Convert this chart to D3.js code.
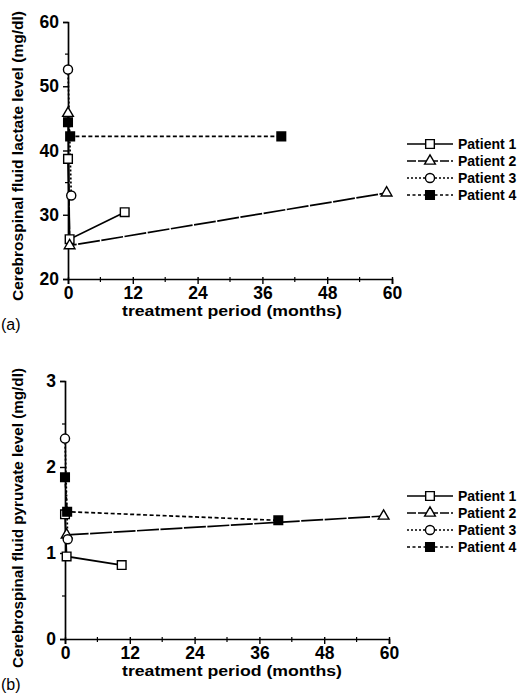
<!DOCTYPE html>
<html>
<head>
<meta charset="utf-8">
<script src="https://cdn.jsdelivr.net/npm/d3@7"></script>
<style>
  body { margin: 0; background: #fff; }
  svg text { font-family: "Liberation Sans", Arial, sans-serif; font-weight: bold; fill: #000; }
</style>
</head>
<body>
<svg id="chart" width="526" height="695"></svg>
<script>
// data: [month, value]
const patients = ['Patient 1', 'Patient 2', 'Patient 3', 'Patient 4'];
const lactateP1 = [[0, 38.7], [0.3, 26.2], [10.5, 30.4]];
const lactateP2 = [[0, 45.8], [0.3, 25.2], [59, 33.4]];
const lactateP3 = [[0, 52.6], [0.6, 33]];
const lactateP4 = [[0, 44.4], [0.4, 42.2], [39.5, 42.2]];
const pyruvateP1 = [[0, 1.45], [0.3, 0.96], [10.5, 0.86]];
const pyruvateP2 = [[0.3, 1.21], [59, 1.43]];
const pyruvateP3 = [[0, 2.33], [0.5, 1.16]];
const pyruvateP4 = [[0, 1.88], [0.4, 1.48], [39.5, 1.38]];
const xTicks = [0, 12, 24, 36, 48, 60];
const lactateTicks = [20, 30, 40, 50, 60];
const pyruvateTicks = [0, 1, 2, 3];

const symbols = [d3.symbolSquare, d3.symbolTriangle, d3.symbolCircle, d3.symbolSquare];
const fills = ['#fff', '#fff', '#fff', '#000'];
const dashes = [null, '22,1.5', '2,2', '4,2.5'];
const legendDashes = [null, '9,2', '2,2', '3,2.5'];
const sizes = [75, 50, 65, 75];

const $svg = d3.select('#chart');

function drawPanel(cfg) {
  const x = d3.scaleLinear().domain([0, 60]).range(cfg.xRange);
  const y = d3.scaleLinear().domain(cfg.yDomain).range(cfg.yRange);
  const g = $svg.append('g');

  // axes
  const axisY = d3.axisLeft(y).tickValues(cfg.yTicks).tickFormat(d3.format('d'))
    .tickSize(5).tickPadding(4);
  const gy = g.append('g').attr('transform', `translate(${cfg.xRange[0]},0)`).call(axisY);
  const axisX = d3.axisBottom(x).tickValues(xTicks).tickSize(5).tickPadding(3);
  const gx = g.append('g').attr('transform', `translate(0,${cfg.yRange[0]})`).call(axisX);
  [gx, gy].forEach(a => {
    a.select('.domain').attr('stroke-width', 1.7);
    a.selectAll('.tick line').attr('stroke-width', 1.4);
    a.selectAll('.tick text').style('font-size', '17.5px');
  });
  gx.selectAll('.tick line').attr('y1', -2);
  // minor ticks
  g.append('g').selectAll('line').data(d3.range(6, 60, 12)).join('line')
    .attr('x1', d => x(d)).attr('x2', d => x(d))
    .attr('y1', cfg.yRange[0] - 2).attr('y2', cfg.yRange[0] + 3)
    .attr('stroke', '#000').attr('stroke-width', 1.2);
  g.append('g').selectAll('line').data(cfg.yMinor).join('line')
    .attr('x1', cfg.xRange[0] - 3).attr('x2', cfg.xRange[0])
    .attr('y1', d => y(d)).attr('y2', d => y(d))
    .attr('stroke', '#000').attr('stroke-width', 1.2);

  // series
  const line = d3.line().x(d => x(d[0])).y(d => y(d[1]));
  cfg.series.forEach((s, i) => {
    g.append('path').attr('d', line(s)).attr('fill', 'none')
      .attr('stroke', '#000').attr('stroke-width', 1.7)
      .attr('stroke-dasharray', dashes[i]);
  });
  cfg.series.forEach((s, i) => {
    g.append('g').selectAll('path').data(s).join('path')
      .attr('d', d3.symbol(symbols[i], sizes[i]))
      .attr('transform', d => `translate(${x(d[0])},${y(d[1])})`)
      .attr('fill', fills[i]).attr('stroke', '#000').attr('stroke-width', 1.4);
  });

  // axis titles
  g.append('text')
    .attr('transform', `translate(${cfg.yLabelX},${cfg.yLabelY}) rotate(-90)`)
    .attr('text-anchor', 'middle').style('font-size', '14px')
    .attr('textLength', cfg.yLabelLen).attr('lengthAdjust', 'spacingAndGlyphs')
    .text(cfg.yLabel);
  g.append('text')
    .attr('x', 232).attr('y', cfg.yRange[0] + 37)
    .attr('text-anchor', 'middle').style('font-size', '15.5px')
    .attr('textLength', 220).attr('lengthAdjust', 'spacingAndGlyphs')
    .text('treatment period (months)');
  g.append('text')
    .attr('x', 1).attr('y', cfg.yRange[0] + 51)
    .style('font-size', '16px').style('font-weight', 'normal')
    .text(cfg.tag);

  // legend
  const lg = g.append('g').attr('transform', `translate(407,${cfg.legendY})`);
  patients.forEach((p, i) => {
    const row = lg.append('g').attr('transform', `translate(0,${i * 17})`);
    row.append('line').attr('x1', 0).attr('x2', 46).attr('y1', 0).attr('y2', 0)
      .attr('stroke', '#000').attr('stroke-width', 1.6).attr('stroke-dasharray', legendDashes[i]);
    row.append('path').attr('d', d3.symbol(symbols[i], sizes[i]))
      .attr('transform', 'translate(23,0)')
      .attr('fill', fills[i]).attr('stroke', '#000').attr('stroke-width', 1.4);
    row.append('text').attr('x', 51).attr('y', 5).style('font-size', '14px').text(p);
  });
}

drawPanel({
  xRange: [68, 392], yDomain: [20, 60], yRange: [279, 22],
  yTicks: lactateTicks, yMinor: [25, 35, 45, 55],
  series: [lactateP1, lactateP2, lactateP3, lactateP4],
  yLabel: 'Cerebrospinal fluid lactate level (mg/dl)',
  yLabelX: 23, yLabelY: 156, yLabelLen: 290,
  legendY: 144, tag: '(a)'
});

drawPanel({
  xRange: [65, 389], yDomain: [0, 3], yRange: [639, 381],
  yTicks: pyruvateTicks, yMinor: [0.5, 1.5, 2.5],
  series: [pyruvateP1, pyruvateP2, pyruvateP3, pyruvateP4],
  yLabel: 'Cerebrospinal fluid pyruvate level (mg/dl)',
  yLabelX: 23, yLabelY: 518, yLabelLen: 300,
  legendY: 496, tag: '(b)'
});
</script>
</body>
</html>
